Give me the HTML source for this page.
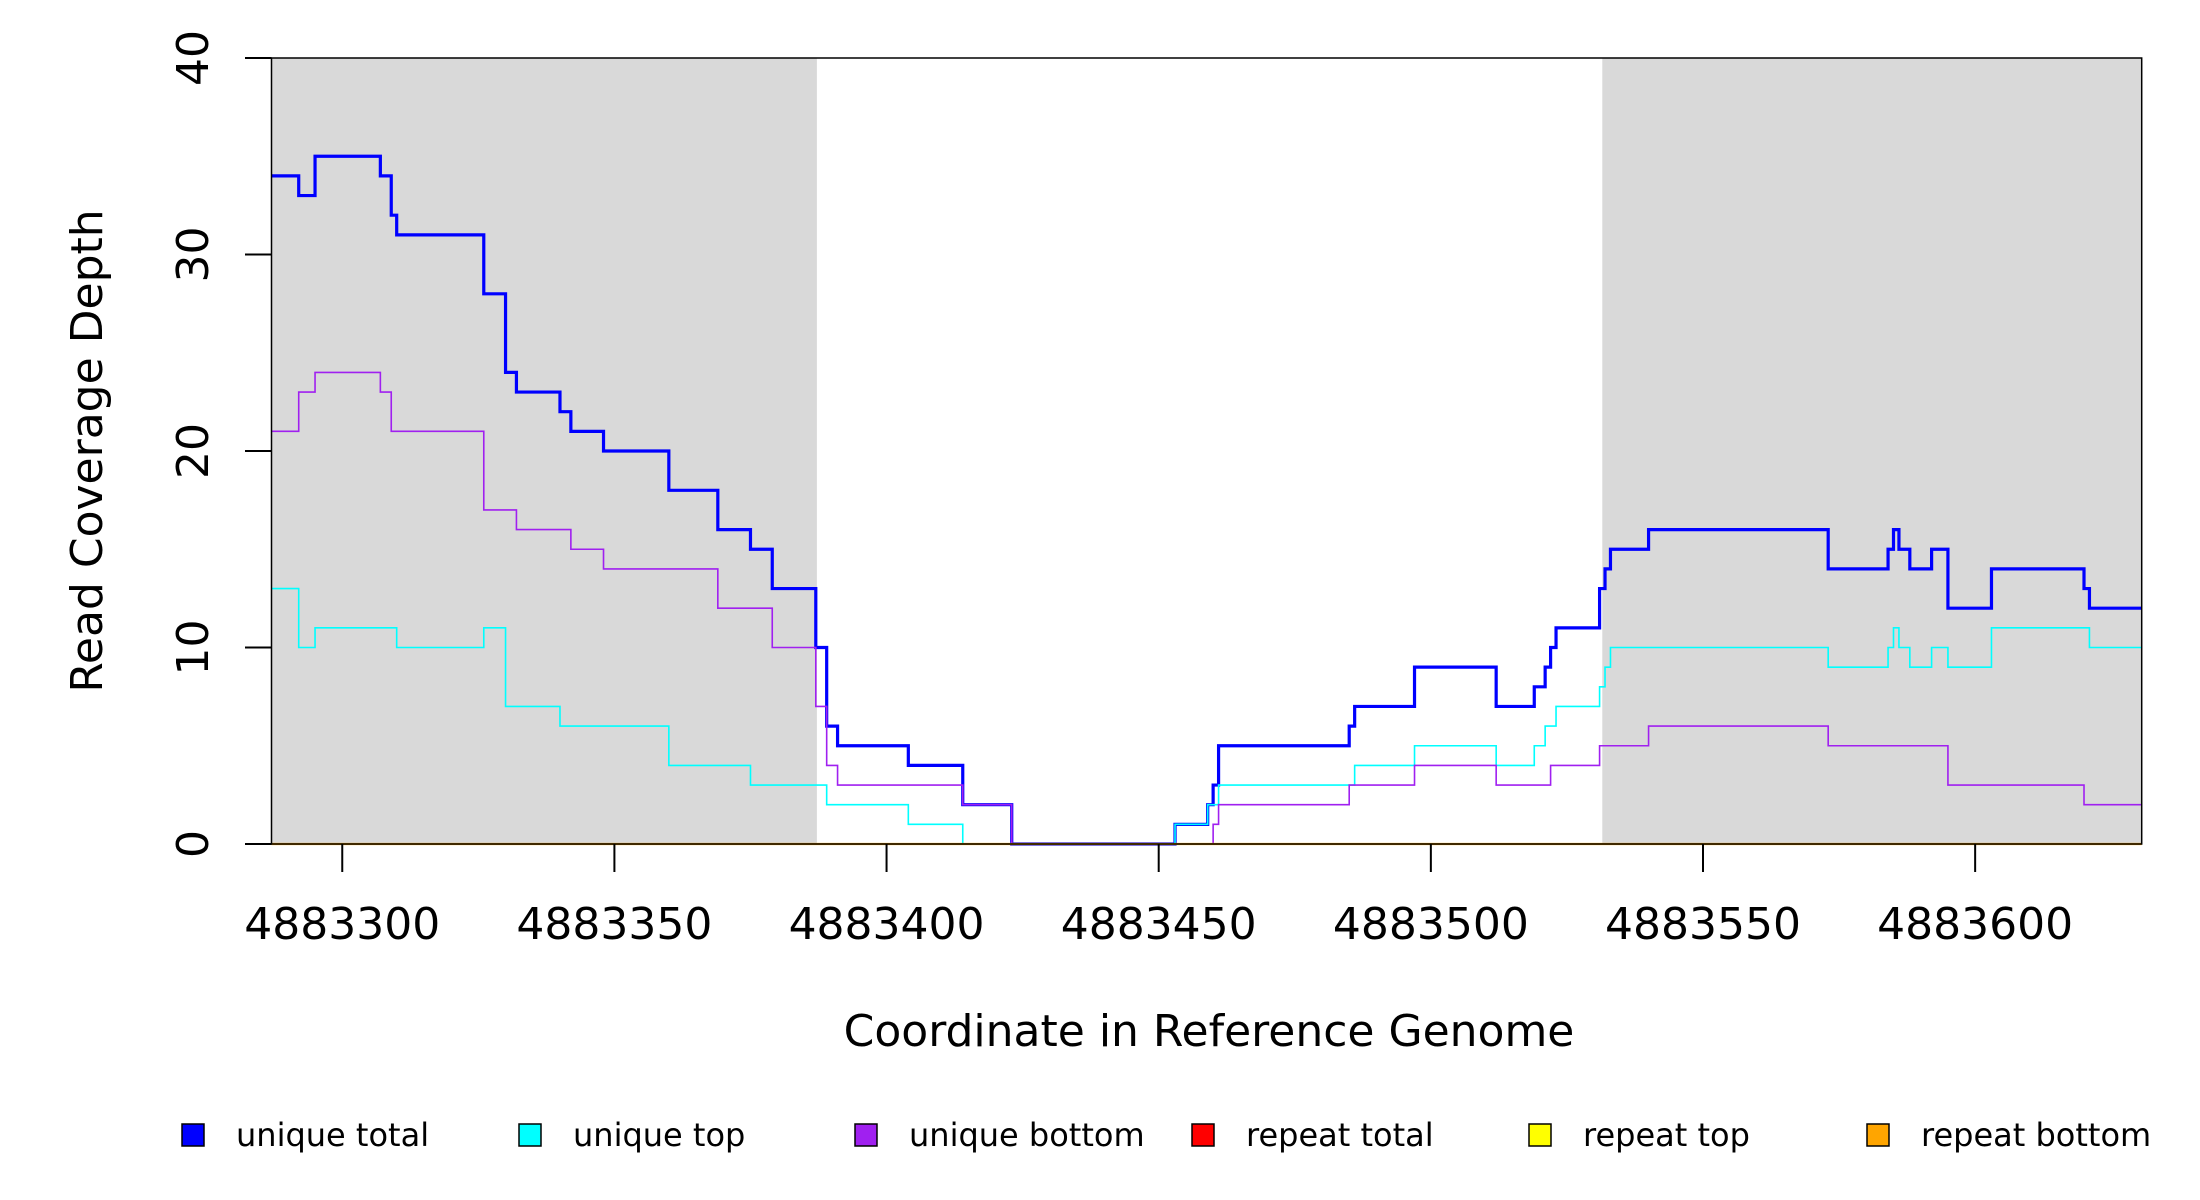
<!DOCTYPE html>
<html><head><meta charset="utf-8"><style>
html,body{margin:0;padding:0;background:#fff;}
svg{display:block;font-family:"DejaVu Sans","Liberation Sans",sans-serif;}
</style></head><body>
<svg id="chart" width="2200" height="1200" viewBox="0 0 2200 1200" xmlns="http://www.w3.org/2000/svg">
<g id="bg"></g>
<g id="series"></g>
<g id="axes"></g>
<text x="1209" y="1046" font-size="44" text-anchor="middle">Coordinate in Reference Genome</text>
<text transform="translate(102,451) rotate(-90)" font-size="44" text-anchor="middle">Read Coverage Depth</text>
<g id="legend"></g>
</svg>
<script>
// ---- data (x offsets from 4883000) ----
const xTicks = [4883300, 4883350, 4883400, 4883450, 4883500, 4883550, 4883600];
const yTicks = [0, 10, 20, 30, 40];
const shadeStarts = [4883287, 4883531.5];
const shadeEnds = [4883387.2, 4883630.6];

const blueX = [287,292,295,307,309,310,326,330,332,340,342,348,360,369,375,379,387,389,391,404,414,423,453,459,460,461,485,486,497,512,519,521,522,523,531,532,533,540,573,584,585,586,588,592,595,603,620,621];
const blueY = [34,33,35,34,32,31,28,24,23,22,21,20,18,16,15,13,10,6,5,4,2,0,1,2,3,5,6,7,9,7,8,9,10,11,13,14,15,16,14,15,16,15,14,15,12,14,13,12];

const cyanX = [287,292,295,310,326,330,340,360,375,389,404,414,453,459,461,486,497,512,519,521,523,531,532,533,573,584,585,586,588,592,595,603,621];
const cyanY = [13,10,11,10,11,7,6,4,3,2,1,0,1,2,3,4,5,4,5,6,7,8,9,10,9,10,11,10,9,10,9,11,10];

const purpleX = [287,292,295,307,309,326,332,342,348,369,379,387,389,391,414,423,460,461,485,497,512,522,531,540,573,595,620];
const purpleY = [21,23,24,23,21,17,16,15,14,12,10,7,4,3,2,0,1,2,3,4,3,4,5,6,5,3,2];

const zeroX = [287];
const zeroY = [0];

const legendLabels = ["unique total","unique top","unique bottom","repeat total","repeat top","repeat bottom"];
const legendColors = ["#0000ff","#00ffff","#a020f0","#ff0000","#ffff00","#ffa500"];

// ---- scales ----
const XMIN = 4883287, XMAX = 4883630.6, X0 = 271.5, X1 = 2141.7;
const YMIN = 0, YMAX = 40, Y0 = 844, Y1 = 58;
const BASE = 4883000;
function sx(v){ return X0 + (v - XMIN) / (XMAX - XMIN) * (X1 - X0); }
function sy(v){ return Y0 - (v - YMIN) / (YMAX - YMIN) * (Y0 - Y1); }
const NS = "http://www.w3.org/2000/svg";
function mk(tag, attrs, parent){
  const e = document.createElementNS(NS, tag);
  for (const k in attrs) e.setAttribute(k, attrs[k]);
  parent.appendChild(e); return e;
}

// shading
const bg = document.getElementById('bg');
for (let i = 0; i < shadeStarts.length; i++){
  const r = mk('rect', {x: sx(shadeStarts[i]), y: Y1, width: sx(shadeEnds[i]) - sx(shadeStarts[i]), height: Y0 - Y1, fill: '#d9d9d9'}, bg);
  
  
}

// series
const sg = document.getElementById('series');
function stepPath(xs, ys){
  let d = '';
  for (let i = 0; i < xs.length; i++){
    const x = sx(BASE + xs[i]), y = sy(ys[i]);
    if (i === 0) d += 'M' + x + ',' + y;
    else d += 'H' + x + 'V' + y;
  }
  d += 'H' + X1;
  return d;
}
const seriesDefs = [
  [blueX, blueY, '#0000ff', 3.2, 'unique-total-line'],
  [cyanX, cyanY, '#00ffff', 1.6, 'unique-top-line'],
  [purpleX, purpleY, '#a020f0', 1.6, 'unique-bottom-line'],
  [zeroX, zeroY, '#ff0000', 1.6, 'repeat-total-line'],
  [zeroX, zeroY, '#ffff00', 1.6, 'repeat-top-line'],
  [zeroX, zeroY, '#ffa500', 2.2, 'repeat-bottom-line']
];
seriesDefs.forEach(s => {
  const p = mk('path', {d: stepPath(s[0], s[1]), fill: 'none', stroke: s[2], 'stroke-width': s[3]}, sg);
  
  
});

// axes
const ax = document.getElementById('axes');
const box = mk('rect', {x: X0, y: Y1, width: X1 - X0, height: Y0 - Y1, fill: 'none', stroke: '#000', 'stroke-width': 1.5}, ax);


xTicks.forEach(t => {
  const x = sx(t);
  const l = mk('line', {x1: x, x2: x, y1: Y0, y2: 872, stroke: '#000', 'stroke-width': 2}, ax);
  
  
  const tx = mk('text', {x: x, y: 939, 'font-size': 44, 'text-anchor': 'middle'}, ax);
  tx.textContent = String(t);
  
  
});
yTicks.forEach(t => {
  const y = sy(t);
  const l = mk('line', {x1: 245, x2: X0, y1: y, y2: y, stroke: '#000', 'stroke-width': 2}, ax);
  
  
  const tx = mk('text', {transform: 'translate(208,' + y + ') rotate(-90)', 'font-size': 44, 'text-anchor': 'middle'}, ax);
  tx.textContent = String(t);
  
  
});

// legend
const lg = document.getElementById('legend');
const legX = [193, 530, 866, 1203, 1540, 1878];
legendLabels.forEach((lab, i) => {
  const g = mk('g', {}, lg);
  
  
  const r = mk('rect', {x: legX[i] - 11, y: 1124, width: 22, height: 22, fill: legendColors[i], stroke: '#000', 'stroke-width': 1.5}, g);
  
  
  const t = mk('text', {x: legX[i] + 43, y: 1146, 'font-size': 32}, g);
  t.textContent = lab;
  
  
});
</script>
</body></html>
